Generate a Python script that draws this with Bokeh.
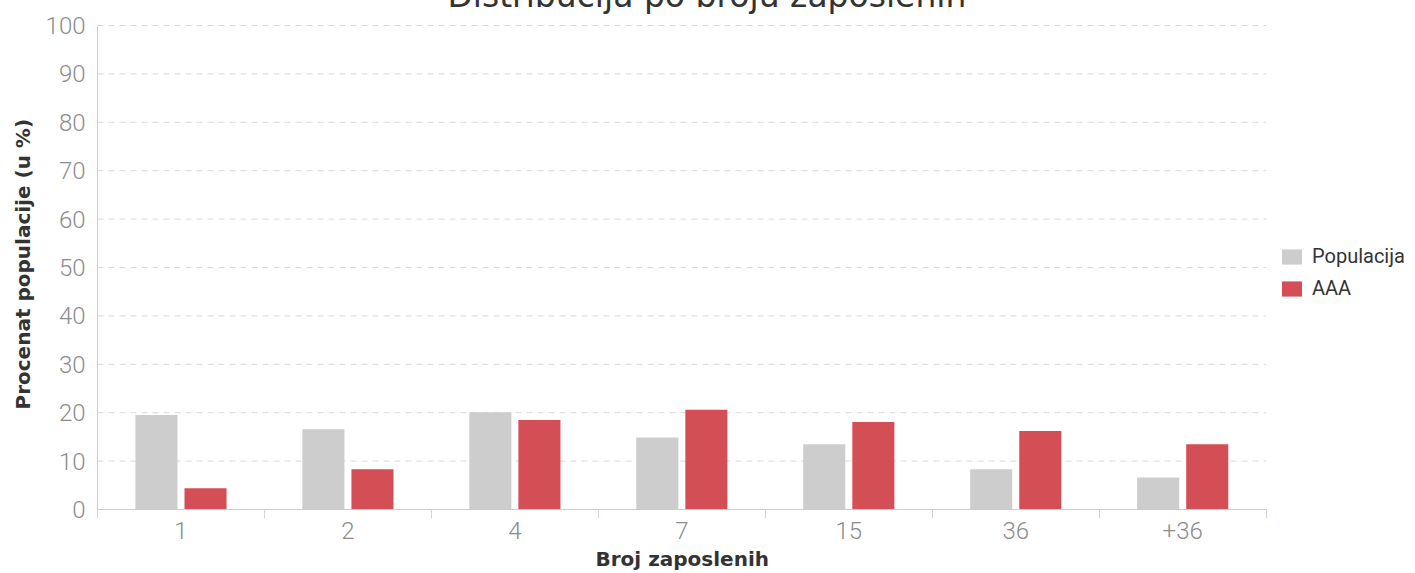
import numpy as np
from bokeh.plotting import figure
from bokeh.models import (ColumnDataSource, Range1d, FixedTicker, Legend, LegendItem,
                          Label, Title)
from bokeh.transform import dodge
from bokeh.embed import file_html
from bokeh.resources import INLINE

# ---- data ----
categories = ["1", "2", "4", "7", "15", "36", "+36"]
populacija = [19.5, 16.6, 20.1, 14.9, 13.5, 8.3, 6.6]
aaa = [4.4, 8.3, 18.5, 20.6, 18.1, 16.2, 13.5]
y_ticks = [0, 10, 20, 30, 40, 50, 60, 70, 80, 90, 100]

title_text = "Distribucija po broju zaposlenih"
x_label = "Broj zaposlenih"
y_label = "Procenat populacije (u %)"

TICK_FONT = "'Roboto Light', Roboto"

n = len(categories)
pos = [i + 0.5 for i in range(n)]
src = ColumnDataSource(dict(x=pos, cat=categories, pop=populacija, aaa=aaa))
grid_src = ColumnDataSource(dict(y=y_ticks, x0=[0] * len(y_ticks), x1=[n] * len(y_ticks)))

# frame spans from canvas top to x-axis, and from y-axis to right edge (legend inside)
FRAME_W = 1307.0
PLOT_W = 1166.0
FRAME_H = 517.0
PLOT_H = 484.0
x_end = n * FRAME_W / PLOT_W
y_end = 100.0 * FRAME_H / PLOT_H

p = figure(width=1407, height=581, output_backend="svg", toolbar_location=None,
           x_range=Range1d(0, x_end), y_range=Range1d(0, y_end),
           min_border_left=95, min_border_right=0, min_border_top=0,
           min_border_bottom=64)
p.styles = {"margin-top": "-8px", "margin-bottom": "-8px", "margin-right": "-8px"}
p.outline_line_color = None
p.background_fill_color = "white"
p.border_fill_color = "white"
p.xgrid.grid_line_color = None
p.ygrid.grid_line_color = None

# dashed horizontal gridlines over the plotting area only
p.segment(x0="x0", x1="x1", y0="y", y1="y", source=grid_src,
          line_color="#d8d8d8", line_width=1, line_dash="6 5")

r1 = p.vbar(x=dodge("x", -0.147, range=p.x_range), top="pop", width=0.252, bottom=0,
            source=src, fill_color="#cdcdcd", line_color=None)
r2 = p.vbar(x=dodge("x", 0.147, range=p.x_range), top="aaa", width=0.252, bottom=0,
            source=src, fill_color="#d44f55", line_color=None)

# x axis
xa = p.xaxis[0]
xa.bounds = (0, n)
xa.ticker = FixedTicker(ticks=pos, minor_ticks=list(range(n + 1)))
xa.major_label_overrides = {p_: c for p_, c in zip(pos, categories)}
xa.major_tick_line_color = None
xa.major_tick_out = 0
xa.major_tick_in = 0
xa.minor_tick_line_color = "#ccd6eb"
xa.minor_tick_out = 9
xa.minor_tick_in = 0
xa.axis_line_color = "#cccccc"
xa.major_label_text_font = TICK_FONT
xa.major_label_text_font_size = "24px"
xa.major_label_text_color = "#8c8c8c"
xa.major_label_standoff = 3

# y axis
ya = p.yaxis[0]
ya.bounds = (0, 100)
ya.ticker = FixedTicker(ticks=y_ticks)
ya.major_tick_line_color = None
ya.major_tick_out = 0
ya.major_tick_in = 0
ya.minor_tick_line_color = None
ya.axis_line_color = "#cccccc"
ya.major_label_text_font = TICK_FONT
ya.major_label_text_font_size = "24px"
ya.major_label_text_color = "#8c8c8c"
ya.major_label_standoff = 12

# axis titles, positioned so they are centred on the plotting area
xt = Title(text=x_label, align="left", offset=498,
           text_font="DejaVu Sans", text_font_style="bold", text_font_size="20px",
           text_color="#333333", standoff=6)
p.add_layout(xt, "below")
yt = Title(text=y_label, align="left", offset=100,
           text_font="DejaVu Sans", text_font_style="bold", text_font_size="20px",
           text_color="#333333", standoff=16)
p.add_layout(yt, "left")

legend = Legend(items=[LegendItem(label="Populacija", renderers=[r1]),
                       LegendItem(label="AAA", renderers=[r2])],
                location=(1182, 209), orientation="vertical")
legend.border_line_color = None
legend.background_fill_alpha = 0
legend.padding = 0
legend.margin = 0
legend.spacing = 8
legend.glyph_width = 25
legend.glyph_height = 19
legend.label_height = 19
legend.label_standoff = 8
legend.label_text_font = "Roboto"
legend.label_text_font_size = "20px"
legend.label_text_color = "#333333"
legend.label_text_baseline = "middle"
p.add_layout(legend)

# chart title: sits above the plotting area and is cut by the top edge
title = Label(x=(708 - 100) / PLOT_W * n, y=100 + 30 / PLOT_H * 100, text=title_text,
              text_align="center", text_baseline="alphabetic", text_font="DejaVu Sans",
              text_font_size="33px", text_color="#333333")
p.add_layout(title)

open("out.html", "w").write(file_html(p, INLINE))
